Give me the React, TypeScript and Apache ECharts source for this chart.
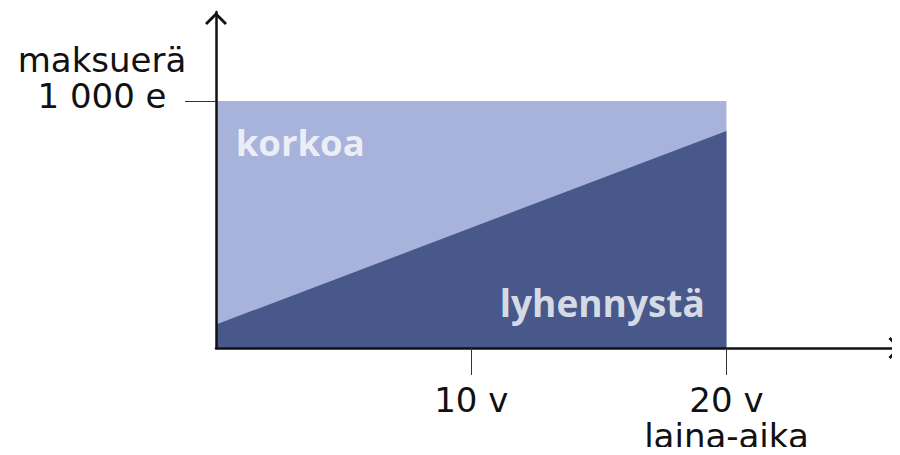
import React, { useEffect, useRef } from "react";
import * as echarts from "echarts";

// Data
const paymentTotal: [number, number][] = [
  [0, 1000],
  [20, 1000],
];
const principalPart: [number, number][] = [
  [0, 95],
  [20, 878],
];
const xTickValues = [10, 20];
const xTickLabels = ["10 v", "20 v\nlaina-aika"];
const yTickValues = [1000];
const yTickLabels = ["1 000 e"];
const yAxisTitle = "maksuerä";
const areaLabels = [
  { name: "korkoa", value: [0.77, 832], side: "right", size: 36.5 },
  { name: "lyhennystä", value: [19.15, 184], side: "left", size: 37 },
];

const LIGHT = "#a8b3db";
const DARK = "#48588b";
const AXIS = "#111111";
const FONT = "DejaVu Sans";
const BOLD_FONT = "Open Sans";
const chevron = "path://M0,11 L11,0 L22,11 L20,13 L11,4 L2,13 Z";

export default function App() {
  const ref = useRef<HTMLDivElement>(null);
  useEffect(() => {
    if (!ref.current) return;
    const chart = echarts.init(ref.current, undefined, { renderer: "svg" });
    chart.setOption({
      animation: false,
      backgroundColor: "#ffffff",
      grid: {
        left: 216,
        right: 0,
        top: 12,
        bottom: 107,
        containLabel: false,
        outerBoundsMode: "none",
      },
      xAxis: {
        type: "value",
        min: 0,
        max: 26.8,
        z: 5,
        splitLine: { show: false },
        axisLine: {
          show: true,
          lineStyle: { color: AXIS, width: 2.5 },
          symbol: ["none", chevron],
          symbolSize: [22, 13],
          symbolOffset: [0, -5],
        },
        axisTick: {
          show: true,
          customValues: xTickValues,
          length: 27,
          lineStyle: { color: "#333", width: 1 },
        },
        axisLabel: {
          show: true,
          customValues: xTickValues,
          formatter: (v: number) => xTickLabels[xTickValues.indexOf(v)] ?? "",
          margin: 33.5,
          fontFamily: FONT,
          fontSize: 34,
          lineHeight: 36,
          color: "#111",
          align: "center",
        },
      },
      yAxis: {
        type: "value",
        min: 0,
        max: 1360,
        z: 5,
        splitLine: { show: false },
        axisLine: {
          show: true,
          lineStyle: { color: AXIS, width: 2.5 },
          symbol: ["none", chevron],
          symbolSize: [22, 13],
          symbolOffset: [0, -6.5],
        },
        axisTick: {
          show: true,
          customValues: yTickValues,
          length: 31,
          lineStyle: { color: "#333", width: 1 },
        },
        axisLabel: {
          show: true,
          customValues: yTickValues,
          formatter: (v: number) =>
            "{n|" + yAxisTitle + "}\n{v|" + (yTickLabels[yTickValues.indexOf(v)] ?? "") + "}",
          margin: 114,
          align: "center",
          verticalAlign: "bottom",
          rich: {
            n: { fontFamily: FONT, fontSize: 34, lineHeight: 62, color: "#111", align: "center" },
            v: { fontFamily: FONT, fontSize: 34, lineHeight: 10, color: "#111", align: "center" },
          },
        },
      },
      series: [
        {
          type: "line",
          data: paymentTotal,
          showSymbol: false,
          lineStyle: { width: 0, opacity: 0 },
          areaStyle: { color: LIGHT, opacity: 1 },
          z: 1,
        },
        {
          type: "line",
          data: principalPart,
          showSymbol: false,
          lineStyle: { width: 0, opacity: 0 },
          areaStyle: { color: DARK, opacity: 1 },
          z: 2,
        },
        {
          type: "scatter",
          symbolSize: 0,
          z: 3,
          data: areaLabels.map((d) => ({
            name: d.name,
            value: d.value,
            label: {
              show: true,
              position: d.side,
              distance: 0,
              formatter: "{b}",
              color: "#ffffff",
              fontFamily: BOLD_FONT,
              fontWeight: "bold",
              fontSize: d.size,
            },
          })),
        },
      ],
    });
    return () => chart.dispose();
  }, []);
  return <div ref={ref} style={{ width: 900, height: 455, margin: -8 }} />;
}
